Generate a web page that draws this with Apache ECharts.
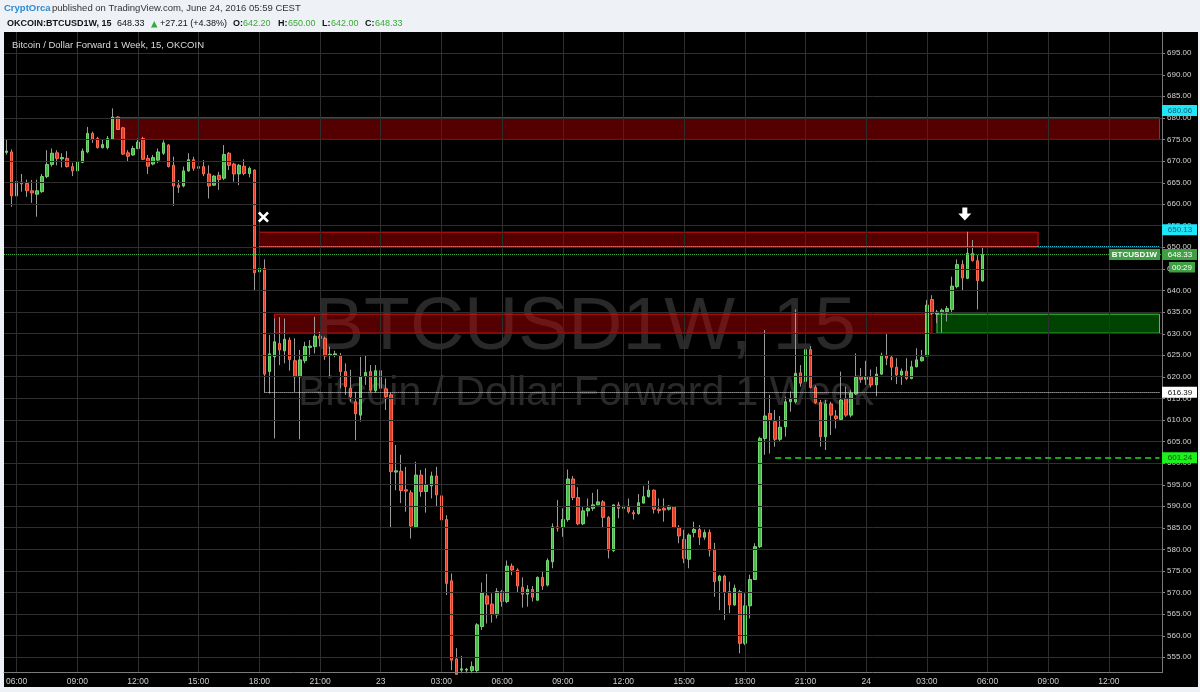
<!DOCTYPE html>
<html><head><meta charset="utf-8">
<script src="https://cdn.jsdelivr.net/npm/echarts@6/dist/echarts.min.js"></script>
<style>html,body{margin:0;padding:0;background:#eef1f5;}#c{width:1200px;height:692px;}</style>
</head><body><div id="c"></div>
<script>
// ---- data: 15-minute candles, OKCOIN BTCUSD1W, starting 22 Jun 05:30 ----
const opens=[672.0,672.1,661.9,665.1,664.8,663.1,662.3,662.9,666.4,669.2,
671.9,670.5,670.6,668.7,667.7,669.7,672.1,676.4,675.2,673.1,
673.1,675.0,680.2,677.7,671.9,671.4,672.9,675.2,670.6,669.3,
670.2,671.8,673.7,669.0,664.4,664.2,667.7,670.3,668.7,668.7,
667.0,664.4,666.7,666.0,671.8,669.3,667.0,668.8,667.1,667.9,
644.3,645.1,621.2,624.6,627.7,626.0,628.5,623.7,620.0,623.7,
626.8,627.0,629.4,628.9,625.0,625.0,624.9,621.2,617.3,614.2,
611.1,620.0,621.2,616.8,621.4,617.2,615.8,597.9,598.1,593.8,
593.1,585.2,597.2,593.4,594.7,597.0,592.4,586.9,572.7,554.6,
552.0,552.0,551.9,551.9,562.1,569.2,567.3,564.8,570.2,567.9,
576.1,575.2,571.2,569.6,570.7,568.2,573.5,571.7,577.1,585.2,
585.1,586.9,596.3,592.0,585.9,588.9,589.5,590.3,591.0,587.4,
579.7,590.3,589.5,590.0,588.5,588.3,590.7,592.2,593.7,589.3,
589.5,589.3,589.9,585.1,582.3,577.7,583.9,584.6,582.8,583.9,
580.0,572.7,573.8,570.2,567.1,570.2,558.2,566.9,573.0,580.6,
605.7,611.5,609.6,605.5,608.4,614.2,614.2,620.9,618.9,626.3,
617.5,614.0,606.1,613.7,610.9,610.1,615.0,611.1,616.0,620.0,
619.4,619.9,618.1,620.6,624.8,624.5,622.2,620.4,621.3,619.6,
622.3,623.7,624.8,637.9,634.5,634.8,635.1,635.6,640.9,646.0,
642.8,648.6,646.9,642.2];
const closes=[672.3,661.9,665.2,664.7,663.1,662.6,663.1,666.4,669.2,671.8,
670.6,670.8,668.7,667.7,669.9,672.3,676.4,675.0,673.1,673.8,
675.2,680.2,677.3,671.6,671.1,672.9,674.4,670.4,668.8,670.8,
672.1,674.2,668.7,664.2,663.9,667.7,670.3,668.3,668.3,667.0,
664.2,666.5,665.7,671.5,669.0,667.0,669.0,667.1,668.3,644.1,
645.1,620.6,625.3,628.1,626.2,628.7,624.0,620.0,623.9,627.0,
627.1,629.4,628.9,624.8,625.2,625.3,621.2,617.7,615.4,611.4,
620.0,621.0,616.9,621.4,617.3,615.4,598.0,598.2,593.6,593.5,
585.4,597.2,593.4,594.9,597.0,592.6,586.8,572.1,554.3,551.0,
552.3,552.2,552.8,562.5,569.9,567.3,565.0,570.2,567.9,576.1,
575.2,571.5,569.6,570.7,568.9,573.5,571.5,577.4,585.2,584.9,
586.9,596.3,592.0,585.9,588.9,589.5,590.3,591.0,587.4,579.8,
590.3,589.5,590.0,588.7,588.2,590.8,592.2,593.7,589.3,589.0,
589.1,590.0,585.1,583.1,577.9,583.3,584.6,582.8,583.9,579.8,
572.5,573.8,570.0,567.1,571.0,558.2,566.9,573.0,580.6,605.7,
610.9,610.1,605.5,608.3,614.2,614.8,620.8,618.5,626.3,617.5,
614.0,606.1,613.7,611.1,610.3,614.6,611.1,616.2,619.9,619.4,
619.9,618.1,620.6,625.0,624.3,622.2,620.4,621.3,619.6,622.3,
623.9,624.5,636.6,634.7,635.0,635.4,635.8,641.0,646.0,642.9,
648.6,646.9,642.3,648.33];
const highs=[675.0,672.7,665.8,667.0,665.7,665.6,665.7,667.0,672.5,672.9,
672.5,671.8,672.3,669.6,670.6,672.9,677.9,676.8,675.6,674.9,
675.8,682.2,680.4,677.9,672.5,673.5,675.2,675.6,671.4,671.4,
672.9,674.8,673.9,671.0,665.6,668.7,671.8,671.0,670.2,670.2,
669.0,666.7,667.5,673.7,672.1,669.6,669.3,670.4,668.7,668.1,
650.1,647.2,629.7,633.5,633.8,633.5,629.1,628.9,626.2,628.1,
628.5,633.9,630.4,629.3,627.0,626.0,625.5,623.1,621.6,616.5,
624.6,625.0,622.7,622.7,622.3,619.6,616.3,604.2,601.9,599.1,
593.7,600.3,598.4,598.8,598.0,599.1,593.0,587.9,574.4,557.1,
555.3,552.5,554.0,562.9,572.3,574.3,569.8,571.0,570.6,577.4,
576.7,575.6,573.5,571.7,571.5,573.7,575.0,577.9,586.0,591.4,
589.5,598.5,597.0,594.4,590.0,591.8,593.1,593.9,591.4,587.7,
590.3,591.0,596.2,591.8,589.1,592.8,594.7,595.9,593.9,591.8,
591.8,590.2,590.0,585.6,584.5,583.7,586.4,585.6,584.6,584.6,
581.5,574.1,574.1,572.5,571.8,570.6,569.8,574.1,581.4,606.1,
630.8,615.8,612.3,610.9,615.4,616.6,635.6,622.7,627.0,627.1,
618.0,614.6,614.6,614.2,612.3,621.2,617.7,616.9,625.4,622.0,
623.7,621.7,622.3,625.6,630.1,625.0,624.3,621.9,624.3,623.7,
626.6,626.2,637.8,638.9,635.5,635.8,636.4,643.2,647.2,647.0,
653.6,651.7,648.2,650.0];
const lows=[671.5,659.4,658.6,662.9,661.7,660.3,657.1,662.6,666.0,668.7,
669.0,668.5,668.5,666.5,666.0,669.5,671.8,674.2,672.9,672.9,
672.7,674.9,677.2,671.4,669.8,671.2,672.7,670.2,667.0,669.0,
669.5,671.4,668.5,659.6,662.6,663.9,667.5,667.7,666.4,666.5,
661.3,664.2,663.3,665.6,667.9,665.2,664.4,666.7,666.2,639.9,
642.0,616.4,616.1,605.7,622.7,623.1,621.4,616.5,605.5,623.1,
624.6,625.4,627.0,623.9,620.0,624.5,617.3,615.8,614.2,605.3,
609.6,618.1,616.5,616.3,616.9,612.3,584.9,593.7,590.7,588.7,
582.5,584.9,592.2,588.5,591.8,590.0,585.6,569.4,552.0,550.0,
550.0,551.0,551.0,551.0,561.3,562.8,563.0,564.0,566.7,567.5,
574.0,570.0,566.5,566.7,567.9,568.1,570.6,571.4,575.6,584.1,
582.9,586.4,591.4,585.6,585.6,587.6,588.9,590.3,584.9,577.9,
579.4,587.2,589.1,588.3,586.9,588.0,590.7,592.0,588.3,588.3,
586.4,589.0,584.9,581.4,576.8,575.6,582.8,581.0,582.2,578.3,
569.0,565.9,563.6,565.2,566.9,555.9,557.8,564.0,573.0,580.3,
601.9,602.2,603.8,605.0,606.1,611.9,613.8,617.7,617.3,617.3,
613.7,603.8,603.0,606.5,608.0,610.0,610.7,610.6,615.8,618.6,
618.1,617.5,615.5,620.4,622.7,619.2,618.3,618.1,619.2,619.4,
622.2,623.5,624.7,634.3,632.4,630.2,632.8,634.7,640.5,640.1,
642.6,646.7,635.6,642.0];

// price axis tick labels
const yTickValues=[555,560,565,570,575,580,585,590,595,600,605,610,615,620,625,630,635,640,645,650,655,660,665,670,675,680,685,690,695];
// zones drawn on the chart: [startSlot, endSlot, low, high]
const redZones=[[21,228,675.0,680.06],[50,204,650.13,653.5],[53,183,630.1,634.5]];
const greenZones=[[184,228,630.1,634.5]];
// price tags on the axis
const priceTags=[
  {text:'680.06',value:680.06,kind:'cyan'},
  {text:'650.13',value:650.13,kind:'cyan'},
  {text:'648.33',value:648.33,kind:'last'},
  {text:'616.39',value:616.39,kind:'white'},
  {text:'601.24',value:601.24,kind:'lime'}
];
const lastPrice=648.33, level650=650.13, level616=616.39, level601=601.24;

// 15-minute time slots on the x axis (22 Jun 05:30 onwards)
const categories=[];
const slotMinutes=[];
for(let i=0;i<229;i++){
  const t=5*60+30+15*i;
  const day=22+Math.floor(t/1440), m=t%1440;
  const hh=String(Math.floor(m/60)).padStart(2,'0'), mm=String(m%60).padStart(2,'0');
  categories.push(day+' '+hh+':'+mm);
  slotMinutes.push(t);
}
const tickSlots=[];
slotMinutes.forEach((t,i)=>{ if(t%180===0) tickSlots.push(i); });

const wickData=opens.map((o,i)=>[o,closes[i],lows[i],highs[i]]);
const bodyData=opens.map((o,i)=>[o,closes[i],Math.min(o,closes[i]),Math.max(o,closes[i])]);

const FONT='Liberation Sans';
const chart=echarts.init(document.getElementById('c'),null,{renderer:'canvas'});
const RED={color:'rgba(200,0,0,0.42)',borderColor:'#d41414',borderWidth:1};
const GREEN={color:'rgba(0,160,0,0.42)',borderColor:'#3fd03f',borderWidth:1};
const areaData=[];
redZones.forEach(z=>areaData.push([{xAxis:categories[z[0]],yAxis:z[3],itemStyle:RED},{xAxis:categories[z[1]],yAxis:z[2]}]));
greenZones.forEach(z=>areaData.push([{xAxis:categories[z[0]],yAxis:z[3],itemStyle:GREEN},{xAxis:categories[z[1]],yAxis:z[2]}]));

const option={
  animation:false,
  backgroundColor:'#eef1f5',
  grid:{left:4,top:32,width:1158,height:640.7,containLabel:false},
  xAxis:{type:'category',data:categories,boundaryGap:true,z:10,
    axisLine:{show:true,lineStyle:{color:'#7a7a7a'}},
    axisTick:{show:false},splitLine:{show:false},
    axisLabel:{color:'#cfcfcf',fontSize:8.5,fontFamily:FONT,margin:4,
      interval:(idx)=>slotMinutes[idx]%180===0,
      formatter:(v)=>{const p=v.split(' ');return p[1]==='00:00'?p[0]:p[1];}}},
  yAxis:{type:'value',position:'right',min:551.4,max:699.9,scale:true,z:10,
    axisLine:{show:true,lineStyle:{color:'#7a7a7a'}},
    axisTick:{show:false},axisLabel:{show:false},splitLine:{show:false}},
  series:[
    {type:'line',data:[],z:1,silent:true,
      markLine:{silent:true,animation:false,symbol:['none','none'],
        lineStyle:{color:'#2f2f2f',width:1,type:'solid'},
        label:{show:true,position:'end',distance:5,color:'#d2d2d2',fontSize:8,fontFamily:FONT,
          formatter:(p)=>Number(p.value).toFixed(2)},
        emphasis:{disabled:true},
        data:yTickValues.map(v=>({yAxis:v}))}},
    {type:'line',data:[],z:1,silent:true,
      markLine:{silent:true,animation:false,symbol:['none','none'],
        lineStyle:{color:'#2f2f2f',width:1,type:'solid'},label:{show:false},
        emphasis:{disabled:true},
        data:tickSlots.map(i=>({xAxis:categories[i]}))}},
    {type:'candlestick',name:'wick',data:wickData,barWidth:1,z:2,silent:true,clip:true,
      itemStyle:{color:'#9b9b9b',color0:'#9b9b9b',borderColor:'#9b9b9b',borderColor0:'#9b9b9b',borderWidth:1}},
    {type:'candlestick',name:'body',data:bodyData,barWidth:3,z:3,silent:true,clip:true,
      itemStyle:{color:'#4cb84c',color0:'#e23c26',borderColor:'#72d872',borderColor0:'#ff6b50',borderWidth:1}},
    {type:'line',data:[],z:5,silent:true,
      markArea:{silent:true,animation:false,emphasis:{disabled:true},label:{show:false},data:areaData},
      markLine:{silent:true,animation:false,symbol:['none','none'],label:{show:false},emphasis:{disabled:true},
        data:[
          {yAxis:lastPrice,lineStyle:{color:'#41b141',width:1,type:'dotted'}},
          [{coord:[categories[50],level650],lineStyle:{color:'#e49a9a',width:1,type:'dotted'}},{coord:[categories[204],level650]}],
          [{coord:[categories[204],level650],lineStyle:{color:'#27d3ef',width:1,type:'dotted'}},{coord:[categories[228],level650]}],
          [{coord:[categories[51],level616],lineStyle:{color:'#e6e6e6',width:1,type:'dotted'}},{coord:[categories[228],level616]}],
          [{coord:[categories[152],level601],lineStyle:{color:'#1ee01e',width:1.5,type:[6,4]}},{coord:[categories[228],level601]}]
        ]},
      markPoint:{silent:true,animation:false,label:{show:false},itemStyle:{color:'#ffffff'},
        data:[
          {coord:[categories[51],657.0],symbol:'path://M2,0 L6,4 L10,0 L12,2 L8,6 L12,10 L10,12 L6,8 L2,12 L0,10 L4,6 L0,2 Z',symbolSize:11,symbolOffset:[-1,0]},
          {coord:[categories[190],657.7],symbol:'path://M4,0 L9,0 L9,6 L13,6 L6.5,13 L0,6 L4,6 Z',symbolSize:13,symbolOffset:[-2.5,0]}
        ]}}
  ]
};
chart.setOption(option);

const yPix=(v)=>chart.convertToPixel({yAxisIndex:0},v);
const tagStyle={
  cyan:{fill:'#1fe6f7',text:'#0e5f7c',shift:{'680.06':-7,'650.13':-17}},
  last:{fill:'#3f9f43',text:'#ffffff'},
  white:{fill:'#ffffff',text:'#111111'},
  lime:{fill:'#1ef01e',text:'#0b4f0b'}
};
const g=[];
g.push({type:'rect',shape:{x:4,y:32,width:1194,height:655},style:{fill:'#000000'},z:-20,silent:true});
g.push({type:'text',x:585,y:328,z:-5,silent:true,style:{text:'BTCUSD1W, 15',font:'75px "Liberation Sans"',fill:'rgba(255,255,255,0.16)',align:'center',verticalAlign:'middle'}});
g.push({type:'text',x:586,y:394,z:-5,silent:true,style:{text:'Bitcoin / Dollar Forward 1 Week',font:'41px "Liberation Sans"',fill:'rgba(255,255,255,0.16)',align:'center',verticalAlign:'middle'}});
g.push({type:'text',x:12,y:45,z:10,silent:true,style:{text:'Bitcoin / Dollar Forward 1 Week, 15, OKCOIN',font:'9.5px "Liberation Sans"',fill:'#d9d9d9',verticalAlign:'middle'}});
// header
g.push({type:'text',x:4,y:8.5,z:10,silent:true,style:{text:'CryptOrca',font:'bold 9.5px "Liberation Sans"',fill:'#2a8bd4',verticalAlign:'middle'}});
g.push({type:'text',x:52,y:8.5,z:10,silent:true,style:{text:'published on TradingView.com, June 24, 2016 05:59 CEST',font:'9.5px "Liberation Sans"',fill:'#333333',verticalAlign:'middle'}});
const hdr=[
  [7,'OKCOIN:BTCUSD1W, 15','bold','#111111'],[117,'648.33','normal','#111111'],
  [160,'+27.21 (+4.38%)','normal','#111111'],
  [233,'O:','bold','#111111'],[243,'642.20','normal','#3aa83a'],
  [278,'H:','bold','#111111'],[288,'650.00','normal','#3aa83a'],
  [322,'L:','bold','#111111'],[331,'642.00','normal','#3aa83a'],
  [365,'C:','bold','#111111'],[375,'648.33','normal','#3aa83a']
];
hdr.forEach(h=>g.push({type:'text',x:h[0],y:24,z:10,silent:true,style:{text:h[1],font:h[2]+' 9px "Liberation Sans"',fill:h[3],verticalAlign:'middle'}}));
g.push({type:'polygon',z:10,silent:true,shape:{points:[[151,27.5],[157.5,27.5],[154.25,21]]},style:{fill:'#3aa83a'}});
// cover strip below the plot so clipped wicks stop at the time axis
g.push({type:'rect',z:2.5,silent:true,shape:{x:4,y:673.2,width:1158,height:13.8},style:{fill:'#000000'}});
// y tick marks
yTickValues.forEach(v=>{const y=Math.round(yPix(v))+0.5;g.push({type:'line',z:4,silent:true,shape:{x1:1162,y1:y,x2:1165,y2:y},style:{stroke:'#8a8a8a',lineWidth:1}});});
// price tags
priceTags.forEach(t=>{
  const st=tagStyle[t.kind];
  const shift=(st.shift&&st.shift[t.text])||0;
  const y=yPix(t.value)+shift;
  g.push({type:'rect',z:12,silent:true,shape:{x:1162,y:y-5.5,width:35,height:11},style:{fill:st.fill}});
  g.push({type:'text',z:13,silent:true,x:1180,y:y,style:{text:t.text,font:'8px "Liberation Sans"',fill:st.text,align:'center',verticalAlign:'middle'}});
});
const yl=yPix(lastPrice);
g.push({type:'rect',z:12,silent:true,shape:{x:1109,y:yl-5.5,width:51,height:11},style:{fill:'#3f9f43'}});
g.push({type:'text',z:13,silent:true,x:1134.5,y:yl,style:{text:'BTCUSD1W',font:'bold 8px "Liberation Sans"',fill:'#ffffff',align:'center',verticalAlign:'middle'}});
g.push({type:'rect',z:12,silent:true,shape:{x:1169,y:yl+7.5,width:26,height:10.5},style:{fill:'#3f9f43'}});
g.push({type:'text',z:13,silent:true,x:1182,y:yl+12.8,style:{text:'00:29',font:'8px "Liberation Sans"',fill:'#ffffff',align:'center',verticalAlign:'middle'}});
chart.setOption({graphic:{elements:g}});
</script></body></html>
